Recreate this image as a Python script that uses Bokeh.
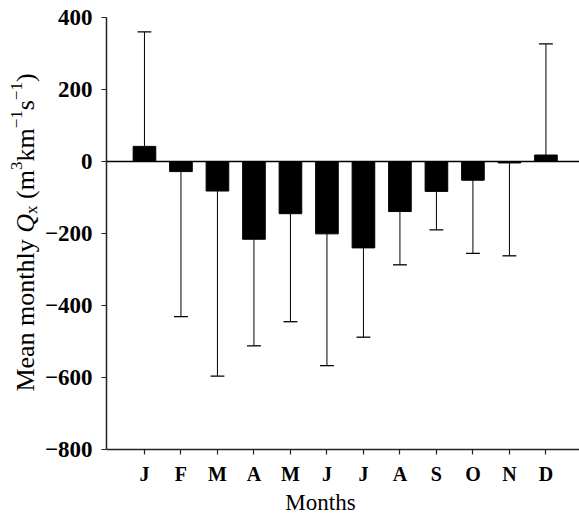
import math
from bokeh.plotting import figure
from bokeh.models import Range1d, FixedTicker, Label
from bokeh.embed import file_html
from bokeh.resources import INLINE

# ---- data ----
months = ["J", "F", "M", "A", "M", "J", "J", "A", "S", "O", "N", "D"]
month_pos = list(range(1, 13))
mean_qx = [42, -28, -82, -216, -145, -201, -240, -139, -83, -52, -4, 18]
whisker_end = [360, -431, -596, -512, -445, -567, -488, -287, -190, -255, -262, 327]
y_ticks = [-800, -600, -400, -200, 0, 200, 400]
y_tick_labels = ["\u2212800", "\u2212600", "\u2212400", "\u2212200", "0", "200", "400"]

FONT = "Liberation Serif"
W, H = 579, 514
BL, BR, BT, BB = 106, 0, 17, 65          # pixel margins around the axes box
X0, X1 = -0.04, 12.92                     # axes box range in x
Y0, Y1 = -800, 400                        # axes box range in y
pxx = (W - BL - BR) / (X1 - X0)
pxy = (H - BT - BB) / (Y1 - Y0)
XL, XR = X0 - BL / pxx, X1 + BR / pxx     # full-canvas range
YT, YB = Y1 + BT / pxy, Y0 - BB / pxy

def dx(px):  # canvas x pixel -> data x
    return XL + px / pxx

def dy(py):  # canvas y pixel -> data y
    return YT - py / pxy

p = figure(width=W, height=H, output_backend="svg", toolbar_location=None,
           x_range=Range1d(XL, XR), y_range=Range1d(YB, YT),
           min_border_left=0, min_border_right=0, min_border_top=0, min_border_bottom=0)
p.outline_line_color = None
p.xgrid.visible = False
p.ygrid.visible = False
p.background_fill_color = "white"
p.border_fill_color = "white"

p.vbar(x=month_pos, top=mean_qx, bottom=0, width=0.62, fill_color="black", line_color="black")
p.segment(x0=month_pos, y0=mean_qx, x1=month_pos, y1=whisker_end, line_color="black", line_width=1)
cap = 0.19
p.segment(x0=[m - cap for m in month_pos], y0=whisker_end,
          x1=[m + cap for m in month_pos], y1=whisker_end, line_color="black", line_width=1.3)
# zero reference line across the axes box
p.segment(x0=[X0], y0=[0], x1=[X1], y1=[0], line_color="black", line_width=1.5)

for ax in (p.xaxis, p.yaxis):
    ax.axis_line_color = "#222222"
    ax.axis_line_width = 1.5
    ax.major_tick_line_color = "#222222"
    ax.major_tick_line_width = 1.2
    ax.major_tick_in = 0
    ax.major_tick_out = 5
    ax.minor_tick_line_color = None
    ax.major_label_text_font = FONT
    ax.major_label_text_font_style = "bold"
    ax.major_label_text_color = "black"

p.xaxis.fixed_location = Y0
p.xaxis.bounds = (X0, X1)
p.xaxis.ticker = FixedTicker(ticks=month_pos)
p.xaxis.major_label_overrides = {m: lab for m, lab in zip(month_pos, months)}
p.xaxis.major_label_text_font_size = "20px"
p.xaxis.major_label_standoff = 8

p.yaxis.fixed_location = X0
p.yaxis.bounds = (Y0, Y1)
p.yaxis.ticker = FixedTicker(ticks=y_ticks)
p.yaxis.major_label_overrides = dict(zip(y_ticks, y_tick_labels))
p.yaxis.major_label_text_font_size = "23px"
p.yaxis.major_label_standoff = 9

# x axis title
p.add_layout(Label(x=dx(320), y=dy(502), text="Months", text_font=FONT,
                   text_font_size="23px", text_align="center", text_baseline="alphabetic",
                   text_color="black"))

# y axis title built from pieces (rotated)
base = 26
small = 17
tw = {"M": .889, "e": .444, "a": .444, "n": .5, " ": .25, "m": .778, "o": .5, "t": .278,
      "h": .5, "l": .278, "y": .5, "Q": .722, "x": .5, "(": .333, ")": .333, "k": .5,
      "s": .389, "3": .5, "1": .5, "\u2212": .564}
pieces = [
    ("Mean monthly ", base, "normal", 0),
    ("Q", base, "italic", 0),
    ("x", small, "normal", 6),
    (" ", base, "normal", 0),
    ("(m", base, "normal", 0),
    ("3", small, "normal", -9),
    ("km", base, "normal", 0),
    ("\u22121", small, "normal", -9),
    ("s", base, "normal", 0),
    ("\u22121", small, "normal", -9),
    (")", base, "normal", 0),
]
total = sum(sum(tw[c] for c in t) * s for t, s, _, _ in pieces)
center_py = 232
start_py = center_py + total / 2
base_px = 25
py = start_py
for t, s, st, shift in pieces:
    if t.strip():
        p.add_layout(Label(x=dx(base_px + shift), y=dy(py), text=t, angle=math.pi / 2,
                           text_font=FONT, text_font_size=f"{s}px", text_font_style=st,
                           text_align="left", text_baseline="alphabetic", text_color="black"))
    py -= sum(tw[c] for c in t) * s

open("out.html", "w").write(file_html(p, INLINE))
